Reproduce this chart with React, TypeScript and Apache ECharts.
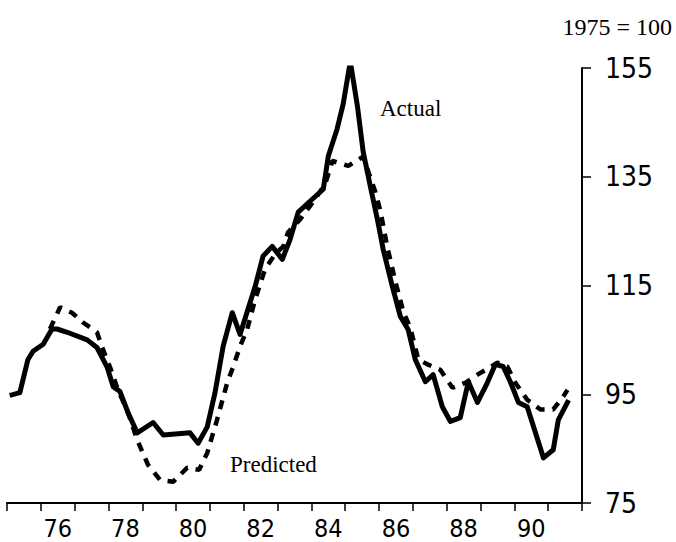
import React, { useEffect, useRef } from 'react';
import * as echarts from 'echarts';

// Category years shown along the bottom axis (each spans one year)
const yearCategories = ['75', '76', '77', '78', '79', '80', '81', '82', '83', '84', '85', '86', '87', '88', '89', '90', '91'];

// Y axis range / ticks
const yMin = 75;
const yMax = 155;
const yStep = 20;

// Actual index (1975 = 100), [year position, value]
const actualSeries: [number, number][] = [
  [75.15, 94.9], [75.38, 95.3], [75.62, 101.4], [75.77, 102.9], [76.07, 104.2],
  [76.33, 107.0], [76.48, 107.0], [76.78, 106.4], [77.37, 105.0], [77.66, 103.6],
  [77.96, 100.0], [78.14, 96.4], [78.34, 95.5], [78.58, 91.6], [78.85, 87.9],
  [79.32, 89.8], [79.62, 87.5], [80.41, 87.9], [80.65, 86.0], [80.92, 89.0],
  [81.15, 95.3], [81.39, 103.8], [81.66, 110.0], [81.89, 106.0], [82.34, 114.9],
  [82.57, 120.4], [82.84, 122.2], [83.14, 119.8], [83.37, 123.5], [83.61, 128.5],
  [83.96, 130.5], [84.35, 132.7], [84.5, 138.8], [84.76, 143.8], [84.94, 148.4],
  [85.15, 156.2], [85.36, 148.0], [85.53, 139.6], [85.74, 133.3], [85.95, 127.2],
  [86.12, 121.7], [86.39, 114.9], [86.63, 109.3], [86.86, 106.9], [87.07, 101.4],
  [87.37, 97.3], [87.6, 98.6], [87.87, 92.7], [88.11, 90.0], [88.4, 90.7],
  [88.64, 97.3], [88.91, 93.5], [89.2, 97.1], [89.44, 100.5], [89.67, 100.1],
  [89.88, 97.3], [90.12, 93.5], [90.38, 92.7], [90.86, 83.3], [91.15, 84.8],
  [91.3, 90.3], [91.57, 93.5]
];

// Predicted index, [year position, value]
const predictedSeries: [number, number][] = [
  [76.27, 107.0], [76.57, 111.0], [76.92, 110.0], [77.25, 108.2], [77.66, 106.4],
  [77.84, 103.2], [78.05, 99.9], [78.28, 95.8], [78.58, 91.6], [78.85, 86.6],
  [79.17, 82.0], [79.53, 79.2], [79.91, 78.9], [80.33, 81.5], [80.68, 81.1],
  [80.92, 84.2], [81.21, 90.3], [81.51, 97.1], [81.69, 100.1], [81.89, 103.8],
  [82.1, 106.9], [82.34, 112.5], [82.63, 118.0], [82.93, 120.8], [83.17, 122.2],
  [83.31, 124.8], [83.67, 127.2], [84.11, 130.9], [84.41, 133.7], [84.62, 137.9],
  [85.09, 137.0], [85.53, 138.7], [85.89, 132.2], [86.04, 128.7], [86.24, 122.2],
  [86.48, 115.8], [86.72, 110.1], [86.92, 107.3], [87.16, 101.4], [87.43, 100.5],
  [87.81, 99.5], [88.17, 96.2], [88.55, 97.1], [88.91, 98.6], [89.5, 100.8],
  [89.79, 100.1], [90.03, 97.1], [90.38, 94.0], [90.77, 92.2], [91.15, 92.2],
  [91.45, 94.6], [91.57, 95.8]
];

const baseLabel = '1975 = 100';
const actualLabel = 'Actual';
const predictedLabel = 'Predicted';

const sansNarrow = '"Liberation Sans Narrow", "Arial Narrow", "DejaVu Sans Condensed", sans-serif';
const serif = '"Liberation Serif", "Times New Roman", serif';

export default function App() {
  const ref = useRef<HTMLDivElement>(null);
  useEffect(() => {
    if (!ref.current) return;
    const chart = echarts.init(ref.current, undefined, { renderer: 'svg' });
    chart.setOption({
      animation: false,
      backgroundColor: '#ffffff',
      grid: { left: 7, right: 94, top: 68, bottom: 39, containLabel: false },
      xAxis: [
        {
          type: 'category',
          data: yearCategories,
          boundaryGap: true,
          position: 'bottom',
          axisLine: { show: true, lineStyle: { color: '#000', width: 2 } },
          axisTick: { show: true, interval: 0, length: 8, lineStyle: { color: '#000', width: 1.5 } },
          axisLabel: {
            interval: (i: number) => i % 2 === 1,
            margin: 13,
            color: '#000',
            fontSize: 25,
            fontFamily: sansNarrow,
          },
          splitLine: { show: false },
        },
        { type: 'value', min: 75, max: 92, show: false },
      ],
      yAxis: {
        type: 'value',
        position: 'right',
        min: yMin,
        max: yMax,
        interval: yStep,
        axisLine: { show: true, lineStyle: { color: '#000', width: 2 } },
        axisTick: { show: true, length: 9, lineStyle: { color: '#000', width: 1.5 } },
        axisLabel: { margin: 23, color: '#000', fontSize: 28, fontFamily: sansNarrow },
        splitLine: { show: false },
      },
      series: [
        {
          type: 'line',
          xAxisIndex: 1,
          data: predictedSeries,
          showSymbol: false,
          lineStyle: { color: '#000', width: 4.5, type: [9, 8], cap: 'butt' },
          z: 2,
        },
        {
          type: 'line',
          xAxisIndex: 1,
          data: actualSeries,
          showSymbol: false,
          lineStyle: { color: '#000', width: 5, join: 'round', cap: 'square' },
          z: 3,
        },
      ],
      graphic: [
        {
          type: 'text', right: 4, top: 15,
          style: { text: baseLabel, font: `24px ${serif}`, fill: '#000' },
        },
        {
          type: 'text', x: 380, y: 108,
          style: { text: actualLabel, font: `23px ${serif}`, fill: '#000', verticalAlign: 'middle' },
        },
        {
          type: 'text', x: 230, y: 464,
          style: { text: predictedLabel, font: `23px ${serif}`, fill: '#000', verticalAlign: 'middle' },
        },
      ],
    });
    return () => chart.dispose();
  }, []);
  return <div ref={ref} style={{ position: 'fixed', left: 0, top: 0, width: 676, height: 542 }} />;
}
